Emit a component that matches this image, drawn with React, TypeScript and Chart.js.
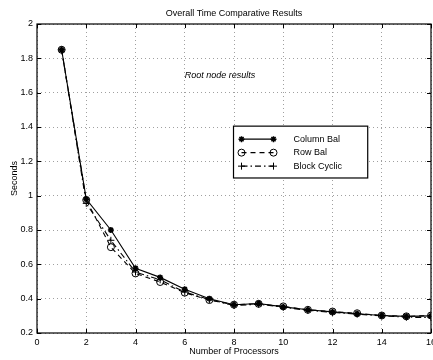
import React, { useEffect, useRef } from "react";
import { Chart, registerables } from "chart.js";

Chart.register(...registerables);

const processors = [1, 2, 3, 4, 5, 6, 7, 8, 9, 10, 11, 12, 13, 14, 15, 16];
const columnBal = [1.85, 0.98, 0.8, 0.577, 0.524, 0.455, 0.4, 0.365, 0.372, 0.352, 0.335, 0.323, 0.312, 0.302, 0.297, 0.3];
const rowBal = [1.85, 0.975, 0.7, 0.547, 0.497, 0.435, 0.392, 0.365, 0.37, 0.355, 0.335, 0.325, 0.315, 0.302, 0.297, 0.302];
const blockCyclic = [1.85, 0.955, 0.74, 0.555, 0.51, 0.438, 0.395, 0.36, 0.368, 0.35, 0.332, 0.32, 0.31, 0.3, 0.292, 0.29];

const seriesNames = ["Column Bal", "Row Bal", "Block Cyclic"];
const chartTitle = "Overall Time Comparative Results";
const xTitle = "Number of Processors";
const yTitle = "Seconds";
const annotation = "Root node results";

const FONT = "'Liberation Sans', Arial, Helvetica, sans-serif";

const dashes: number[][] = [[], [5, 4], [6, 3, 1.5, 3]];
const markers = ["star", "circle", "cross"];

function drawMarker(ctx: CanvasRenderingContext2D, kind: string, x: number, y: number) {
  ctx.save();
  ctx.setLineDash([]);
  ctx.strokeStyle = "#000";
  ctx.lineWidth = kind === "star" ? 1.5 : 1;
  ctx.beginPath();
  if (kind === "star") {
    const r = 3;
    ctx.moveTo(x - r, y); ctx.lineTo(x + r, y);
    ctx.moveTo(x, y - r); ctx.lineTo(x, y + r);
    const d = r * 0.707;
    ctx.moveTo(x - d, y - d); ctx.lineTo(x + d, y + d);
    ctx.moveTo(x - d, y + d); ctx.lineTo(x + d, y - d);
  } else if (kind === "circle") {
    ctx.arc(x, y, 3.5, 0, Math.PI * 2);
  } else {
    const r = 3.5;
    ctx.moveTo(x - r, y); ctx.lineTo(x + r, y);
    ctx.moveTo(x, y - r); ctx.lineTo(x, y + r);
  }
  ctx.stroke();
  ctx.restore();
}

const framePlugin = {
  id: "matlabFrame",
  afterDatasetsDraw(chart: any) {
    const { ctx, chartArea: a, scales } = chart;
    const xs = scales.x;
    const ys = scales.y;
    ctx.save();
    ctx.strokeStyle = "#000";
    ctx.lineWidth = 1;
    ctx.setLineDash([]);
    const tl = 4;
    ctx.beginPath();
    xs.ticks.forEach((t: any) => {
      const px = Math.round(xs.getPixelForValue(t.value)) + 0.5;
      ctx.moveTo(px, a.bottom); ctx.lineTo(px, a.bottom - tl);
      ctx.moveTo(px, a.top); ctx.lineTo(px, a.top + tl);
    });
    ys.ticks.forEach((t: any) => {
      const py = Math.round(ys.getPixelForValue(t.value)) + 0.5;
      ctx.moveTo(a.left, py); ctx.lineTo(a.left + tl, py);
      ctx.moveTo(a.right, py); ctx.lineTo(a.right - tl, py);
    });
    ctx.stroke();
    ctx.lineWidth = 1.2;
    ctx.strokeRect(a.left, a.top, a.right - a.left, a.bottom - a.top);

    ctx.font = `italic 9px ${FONT}`;
    ctx.fillStyle = "#000";
    ctx.textAlign = "left";
    ctx.textBaseline = "middle";
    ctx.fillText(annotation, xs.getPixelForValue(6.0), ys.getPixelForValue(1.7));

    const lx1 = xs.getPixelForValue(7.98);
    const lx2 = xs.getPixelForValue(13.43);
    const ly1 = ys.getPixelForValue(1.405);
    const ly2 = ys.getPixelForValue(1.103);
    ctx.fillStyle = "#fff";
    ctx.fillRect(lx1, ly1, lx2 - lx1, ly2 - ly1);
    ctx.lineWidth = 1.2;
    ctx.strokeStyle = "#000";
    ctx.strokeRect(lx1, ly1, lx2 - lx1, ly2 - ly1);
    seriesNames.forEach((name, i) => {
      const yy = ly1 + 13 + i * 13.5;
      const sx1 = lx1 + 8;
      const sx2 = lx1 + 40;
      ctx.save();
      ctx.setLineDash(dashes[i]);
      ctx.lineWidth = 1.1;
      ctx.strokeStyle = "#000";
      ctx.beginPath();
      ctx.moveTo(sx1, yy); ctx.lineTo(sx2, yy);
      ctx.stroke();
      ctx.restore();
      drawMarker(ctx, markers[i], sx1, yy);
      drawMarker(ctx, markers[i], sx2, yy);
      ctx.fillStyle = "#000";
      ctx.font = `9px ${FONT}`;
      ctx.textAlign = "left";
      ctx.textBaseline = "middle";
      ctx.fillText(name, lx1 + 60, yy);
    });
    ctx.restore();
  },
};

export default function App() {
  const ref = useRef<HTMLCanvasElement | null>(null);
  useEffect(() => {
    if (!ref.current) return;
    const mk = (vals: number[]) => processors.map((p, i) => ({ x: p, y: vals[i] }));
    const allSeries = [columnBal, rowBal, blockCyclic];
    const chart = new Chart(ref.current, {
      type: "line",
      data: {
        datasets: allSeries.map((vals, i) => ({
          label: seriesNames[i],
          data: mk(vals),
          borderColor: "#000",
          backgroundColor: "rgba(0,0,0,0)",
          borderWidth: 1.1,
          borderDash: dashes[i],
          pointStyle: markers[i] as any,
          pointRadius: i === 0 ? 3 : 3.5,
          pointBorderWidth: i === 0 ? 1.6 : 1,
          pointBorderColor: "#000",
          pointBackgroundColor: "rgba(0,0,0,0)",
          tension: 0,
        })),
      },
      options: {
        animation: false,
        responsive: false,
        devicePixelRatio: 1,
        layout: { autoPadding: false, padding: { top: 0, right: 2, left: 0, bottom: 0 } },
        plugins: {
          legend: { display: false },
          tooltip: { enabled: false },
          title: {
            display: true,
            text: chartTitle,
            fullSize: false,
            color: "#000",
            font: { family: FONT, size: 9, weight: "normal", lineHeight: 1.2 },
            padding: { top: 8, bottom: 5.2 },
          },
        },
        scales: {
          x: {
            type: "linear",
            min: 0,
            max: 16,
            afterFit: (s: any) => { s.height = 27; s.paddingLeft = 0; s.paddingRight = 0; },
            ticks: {
              stepSize: 2,
              color: "#000",
              padding: 4,
              font: { family: FONT, size: 9 },
              maxRotation: 0,
            },
            grid: { color: "#888", lineWidth: 0.8, drawTicks: false },
            border: { display: false, dash: [1, 3] },
            title: {
              display: true,
              text: xTitle,
              color: "#000",
              font: { family: FONT, size: 9 },
              padding: { top: 0, bottom: 3 },
            },
          },
          y: {
            type: "linear",
            min: 0.2,
            max: 2,
            afterFit: (s: any) => { s.width = 37; s.paddingTop = 0; s.paddingBottom = 0; },
            ticks: {
              stepSize: 0.2,
              color: "#000",
              padding: 4,
              font: { family: FONT, size: 9 },
              callback: (v: any) => String(Number(Number(v).toFixed(1))),
            },
            grid: { color: "#888", lineWidth: 0.8, drawTicks: false },
            border: { display: false, dash: [1, 3] },
            title: {
              display: true,
              text: yTitle,
              color: "#000",
              font: { family: FONT, size: 9 },
              padding: { top: 9, bottom: 0 },
            },
          },
        },
      },
      plugins: [framePlugin],
    });
    return () => chart.destroy();
  }, []);
  return (
    <div style={{ position: "absolute", left: 0, top: 0, width: 433, height: 360, background: "#fff" }}>
      <canvas ref={ref} width={433} height={360} style={{ display: "block" }} />
    </div>
  );
}
